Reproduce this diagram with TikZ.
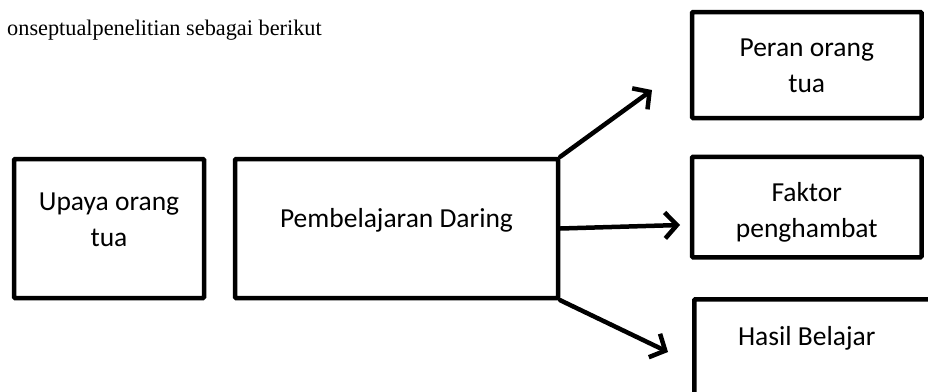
\documentclass[tikz,border=0pt]{standalone}
\usepackage{fontspec}
\setmainfont{Liberation Serif}
\newfontfamily\kotakfont{Carlito}
\usetikzlibrary{positioning}
\usetikzlibrary{arrows.meta}

\tikzset{
    kotak/.style={draw, line width=4.5pt, rectangle, rounded corners=1pt, inner sep=0pt},
    isi/.style={font=\kotakfont\fontsize{27.5}{36}\selectfont, align=center, anchor=base, inner sep=0pt},
    panah/.style={line width=4.5pt, line cap=round, -{Straight Barb[length=12pt,width=26pt]}}
}

\begin{document}
\begin{tikzpicture}[x=1pt, y=-1pt]
    \useasboundingbox (0,0) rectangle (928,391);

    % Judul
    \node[anchor=base west, inner sep=0pt, font=\fontsize{22.3}{26}\selectfont] (judul) at (7,35) {onseptualpenelitian sebagai berikut};

    % Kotak kiri
    \node[kotak, minimum width=190pt, minimum height=139pt] (upaya) at (109,228.5) {};
    \node[kotak, minimum width=323pt, minimum height=139pt] (daring) at (396.5,228.5) {};

    % Kotak kanan
    \node[kotak, minimum width=229.5pt, minimum height=106pt] (peran) at (806.75,65) {};
    \node[kotak, minimum width=229.5pt, minimum height=100.5pt] (faktor) at (806.75,207) {};
    \node[kotak, minimum width=260pt, minimum height=110pt, anchor=north west] (hasil) at (692,297) {};

    % Teks (base = baris terakhir)
    \node[isi] (upaya-t) at (109,246) {Upaya orang\\tua};
    \node[isi] (daring-t) at (396.5,227) {Pembelajaran Daring};
    \node[isi] (peran-t) at (806.75,92) {Peran orang\\tua};
    \node[isi] (faktor-t) at (806.75,237) {Faktor\\penghambat};
    \node[isi] (hasil-t) at (806.75,345) {Hasil Belajar};

    % Panah
    \coordinate (ujung1) at (652,90);
    \coordinate (ujung2) at (680,225);
    \coordinate (ujung3) at (668,352);
    \draw[panah] (daring.north east) -- (ujung1);
    \draw[panah] (daring.east) -- (ujung2);
    \draw[panah] (daring.south east) -- (ujung3);
\end{tikzpicture}
\end{document}
